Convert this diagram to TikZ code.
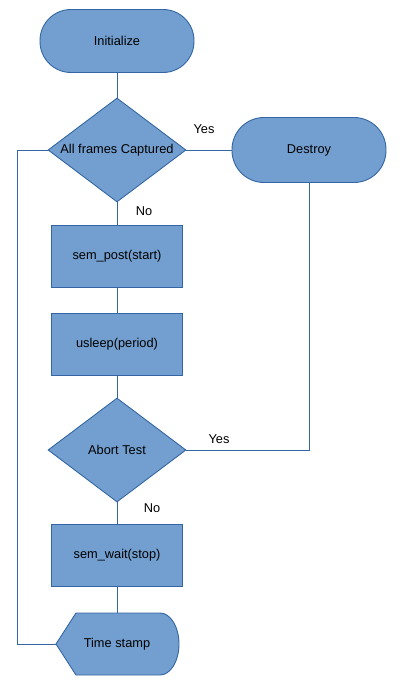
\documentclass[tikz,border=0pt]{standalone}
\usepackage{fontspec}
\setmainfont{Liberation Sans}
\usepackage{xcolor}
\usepackage{tikz}
\usetikzlibrary{shapes.geometric, positioning, calc}

\definecolor{boxfill}{HTML}{729FCF}
\definecolor{boxline}{HTML}{3465A4}

\tikzset{
	flowline/.style={draw=boxline, line width=0.9pt},
	terminal/.style={draw=boxline, fill=boxfill, line width=0.9pt, rectangle, rounded corners=31pt, minimum width=154pt, minimum height=63pt},
	process/.style={draw=boxline, fill=boxfill, line width=0.9pt, rectangle, minimum width=131pt, minimum height=62pt},
	decision/.style={draw=boxline, fill=boxfill, line width=0.9pt, diamond, aspect=1.33, inner sep=0pt, minimum width=138pt, minimum height=104pt},
	answer/.style={inner sep=0pt}
}

\begin{document}
\begin{tikzpicture}[x=1pt, y=-1pt, font=\fontsize{12.8}{15}\selectfont]
	\useasboundingbox (0,0) rectangle (402,692); % Fix the page size
	
	% Draw the main column of steps
	\node[terminal] (init) at (117,41) {Initialize};
	\node[decision] (frames) at (117,150) {All frames Captured};
	\node[terminal, minimum height=65pt, rounded corners=32pt] (destroy) at (309,150) {Destroy};
	\node[process] (post) at (117,256) {sem\_post(start)};
	\node[process] (sleep) at (117,344) {usleep(period)};
	\node[decision] (abort) at (117,450) {Abort Test};
	\node[process] (wait) at (117,555) {sem\_wait(stop)};
	
	% Draw the time stamp shape (pointed left, round right)
	\draw[draw=boxline, fill=boxfill, line width=0.9pt] 
	(56,644) -- 
	(76,613) -- 
	(160,613) arc[start angle=-90, end angle=90, x radius=19, y radius=31] -- 
	(76,675) -- cycle;
	\node (stamp) at (117,644) {Time stamp};
	\coordinate (stamptop) at (117,613);
	\coordinate (stamptip) at (56,644);
	\coordinate (loop) at (17,150);
	
	% Connect the steps
	\draw[flowline] (init) -- (frames);
	\draw[flowline] (frames) -- (destroy);
	\draw[flowline] (frames) -- (post);
	\draw[flowline] (post) -- (sleep);
	\draw[flowline] (sleep) -- (abort);
	\draw[flowline] (abort) -- (wait);
	\draw[flowline] (wait) -- (stamptop);
	\draw[flowline] (destroy.south) |- (abort.east);
	\draw[flowline] (frames.west) -- (loop) |- (stamptip);
	
	% Labels for the branches
	\node[answer] (yes1) at (204,129) {Yes};
	\node[answer] (no1) at (144,211) {No};
	\node[answer] (yes2) at (219,439) {Yes};
	\node[answer] (no2) at (152,508) {No};
	
\end{tikzpicture}
\end{document}
